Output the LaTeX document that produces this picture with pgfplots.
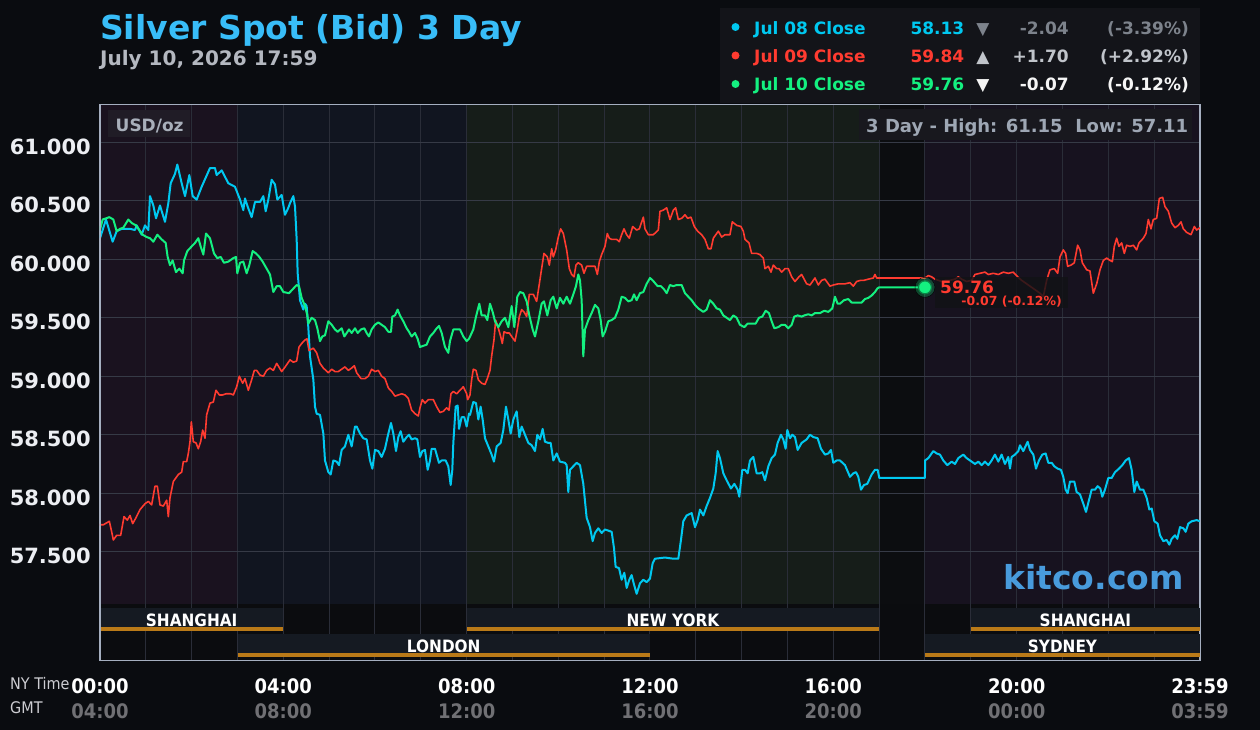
\documentclass[border=0pt]{standalone}
\usepackage{pgfplots}
\pgfplotsset{compat=1.18}
\usepackage{fontspec}
\setmainfont{DejaVu Sans}
\newfontfamily\condfont{DejaVu Sans}[FakeStretch=0.9]
\newcommand\fs[1]{\fontsize{#1bp}{#1bp}\selectfont}
\definecolor{pagebg}{RGB}{10,12,16}
\definecolor{regA}{RGB}{26,18,31}
\definecolor{regB}{RGB}{17,21,32}
\definecolor{regC}{RGB}{22,29,25}
\definecolor{regD}{RGB}{12,13,16}
\definecolor{regE}{RGB}{23,18,31}
\definecolor{bandarea}{RGB}{11,12,15}
\definecolor{bandfill}{RGB}{21,26,34}
\definecolor{bandline}{RGB}{186,122,24}
\definecolor{gridv}{RGB}{42,45,56}
\definecolor{gridh}{RGB}{54,58,70}
\definecolor{frame}{RGB}{165,175,192}
\definecolor{cyanL}{RGB}{0,200,240}
\definecolor{redL}{RGB}{255,59,48}
\definecolor{greenL}{RGB}{20,240,128}
\definecolor{titleblue}{RGB}{56,189,248}
\definecolor{subgray}{RGB}{180,184,192}
\definecolor{legbg}{RGB}{19,20,25}
\definecolor{chgA}{RGB}{125,131,140}
\definecolor{chgB}{RGB}{192,196,202}
\definecolor{chgC}{RGB}{245,245,245}
\definecolor{ylab}{RGB}{236,238,242}
\definecolor{gmtgray}{RGB}{112,112,116}
\definecolor{nygray}{RGB}{205,205,210}
\definecolor{usdbox}{RGB}{32,28,38}
\definecolor{usdtext}{RGB}{168,175,186}
\definecolor{hlbox}{RGB}{24,24,30}
\definecolor{hltext}{RGB}{158,167,180}
\definecolor{kitco}{RGB}{72,155,220}
\definecolor{lblbox}{RGB}{18,18,22}
\begin{document}
\begin{tikzpicture}
% page background
\fill[pagebg] (-100bp,-70bp) rectangle (1160bp,660bp);
% session shading of the plot area
\fill[regA] (0bp,56bp) rectangle (137.5bp,555bp);
\fill[regB] (137.5bp,56bp) rectangle (366.667bp,555bp);
\fill[regC] (366.667bp,56bp) rectangle (779.167bp,555bp);
\fill[regD] (779.167bp,56bp) rectangle (825bp,555bp);
\fill[regE] (825bp,56bp) rectangle (1100bp,555bp);
\fill[bandarea] (0bp,0bp) rectangle (1100bp,56bp);

\begin{axis}[
  at={(0,0)}, anchor=south west,
  scale only axis, width=1100bp, height=555bp,
  xmin=0, xmax=24, ymin=56.574, ymax=61.319,
  xtick={0,1,...,24}, xticklabels={},
  ytick={57.5,58,58.5,59,59.5,60,60.5,61},
  yticklabels={57.500,58.000,58.500,59.000,59.500,60.000,60.500,61.000},
  yticklabel style={font=\fs{21}\bfseries, text=ylab, anchor=east, inner sep=0pt, xshift=-9bp, yshift=-4.5bp},
  grid=major,
  x grid style={draw=gridv, line width=1bp},
  y grid style={draw=gridh, line width=1bp},
  axis line style={draw=frame, line width=1bp},
  major tick length=0pt, tick style={draw=none},
]
% Jul 08
\addplot[cyanL, line width=2bp, line join=round] coordinates {
(0,60.18)(0.131,60.34)(0.276,60.15)(0.364,60.24)(0.473,60.26)(0.655,60.26)(0.764,60.25)(0.800,60.29)(0.909,60.21)(0.982,60.29)
(1.055,60.25)(1.091,60.54)(1.164,60.46)(1.222,60.35)(1.309,60.46)(1.418,60.32)(1.491,60.48)(1.542,60.65)(1.636,60.73)(1.687,60.81)
(1.782,60.65)(1.855,60.54)(1.949,60.72)(2.022,60.54)(2.109,60.51)(2.218,60.62)(2.400,60.78)(2.509,60.78)(2.545,60.72)(2.655,60.76)
(2.800,60.65)(2.945,60.62)(3.055,60.51)(3.127,60.42)(3.164,60.52)(3.222,60.45)(3.309,60.36)(3.382,60.49)(3.491,60.49)(3.564,60.54)
(3.615,60.41)(3.673,60.51)(3.745,60.68)(3.818,60.64)(3.869,60.51)(3.964,60.55)(4.036,60.38)(4.109,60.44)(4.146,60.48)(4.218,60.54)
(4.255,60.45)(4.291,60.17)(4.313,59.88)(4.364,59.65)(4.436,59.57)(4.473,59.62)(4.509,59.60)(4.545,59.42)(4.582,59.17)(4.655,58.97)
(4.691,58.74)(4.727,58.68)(4.800,58.67)(4.873,58.51)(4.909,58.28)(4.982,58.18)(5.033,58.16)(5.091,58.28)(5.164,58.27)(5.215,58.24)
(5.273,58.37)(5.345,58.40)(5.418,58.50)(5.491,58.40)(5.564,58.57)(5.600,58.57)(5.673,58.51)(5.745,58.47)(5.818,58.46)(5.891,58.28)
(5.942,58.21)(6.000,58.37)(6.073,58.36)(6.145,58.31)(6.218,58.38)(6.291,58.51)(6.349,58.60)(6.400,58.51)(6.458,58.36)(6.509,58.48)
(6.560,58.53)(6.618,58.44)(6.691,58.48)(6.742,58.50)(6.800,58.46)(6.873,58.47)(6.924,58.46)(6.982,58.31)(7.033,58.36)(7.091,58.37)
(7.149,58.20)(7.200,58.28)(7.236,58.38)(7.309,58.38)(7.396,58.26)(7.455,58.28)(7.542,58.28)(7.600,58.23)(7.651,58.07)(7.687,58.20)
(7.709,58.43)(7.760,58.74)(7.804,58.75)(7.833,58.55)(7.891,58.65)(7.949,58.65)(8.000,58.57)(8.051,58.68)(8.073,58.67)(8.145,58.78)
(8.204,58.77)(8.255,58.63)(8.305,58.74)(8.349,58.63)(8.400,58.47)(8.473,58.40)(8.545,58.33)(8.596,58.27)(8.655,58.40)(8.742,58.43)
(8.800,58.54)(8.858,58.74)(8.909,58.63)(8.960,58.51)(9.018,58.63)(9.091,58.70)(9.149,58.48)(9.200,58.57)(9.273,58.50)(9.345,58.43)
(9.418,58.41)(9.491,58.36)(9.542,58.50)(9.600,58.46)(9.658,58.55)(9.709,58.44)(9.782,58.43)(9.833,58.43)(9.891,58.28)(9.964,58.34)
(10.036,58.27)(10.145,58.26)(10.182,58.24)(10.218,58.01)(10.255,58.20)(10.327,58.23)(10.400,58.26)(10.473,58.24)(10.545,58.08)(10.618,57.79)
(10.691,57.71)(10.749,57.59)(10.800,57.66)(10.873,57.70)(10.945,57.66)(11.018,57.69)(11.164,57.67)(11.215,57.53)(11.251,57.37)(11.324,57.36)
(11.382,57.26)(11.440,57.32)(11.491,57.19)(11.549,57.26)(11.600,57.30)(11.651,57.22)(11.709,57.14)(11.782,57.23)(11.855,57.26)(11.927,57.24)
(12.000,57.27)(12.058,57.40)(12.109,57.44)(12.327,57.45)(12.509,57.44)(12.618,57.44)(12.676,57.60)(12.727,57.76)(12.800,57.81)(12.909,57.83)
(12.982,57.71)(13.040,57.77)(13.091,57.86)(13.164,57.81)(13.236,57.89)(13.309,57.96)(13.382,58.04)(13.433,58.17)(13.476,58.36)(13.527,58.30)
(13.600,58.17)(13.673,58.11)(13.767,58.04)(13.840,58.08)(13.913,58.03)(13.949,57.97)(14.014,58.20)(14.073,58.20)(14.131,58.17)(14.182,58.28)
(14.255,58.31)(14.327,58.17)(14.400,58.17)(14.451,58.18)(14.509,58.11)(14.582,58.23)(14.655,58.30)(14.727,58.33)(14.785,58.43)(14.858,58.50)
(14.909,58.46)(14.960,58.38)(14.996,58.54)(15.055,58.47)(15.105,58.50)(15.164,58.48)(15.222,58.37)(15.309,58.43)(15.418,58.46)(15.491,58.50)
(15.564,58.48)(15.658,58.47)(15.731,58.38)(15.818,58.33)(15.891,58.34)(15.949,58.37)(16.000,58.26)(16.073,58.28)(16.145,58.28)(16.255,58.24)
(16.364,58.14)(16.436,58.17)(16.494,58.18)(16.545,58.14)(16.604,58.03)(16.669,58.07)(16.742,58.08)(16.836,58.16)(16.909,58.20)(16.967,58.20)
(17.004,58.13)(18.000,58.13)(18.001,58.28)(18.073,58.30)(18.182,58.36)(18.255,58.34)(18.327,58.33)(18.400,58.28)(18.487,58.24)(18.582,58.27)
(18.655,58.25)(18.727,58.30)(18.836,58.33)(18.909,58.30)(19.018,58.27)(19.091,58.25)(19.164,58.27)(19.236,58.24)(19.309,58.27)(19.382,58.24)
(19.455,58.28)(19.527,58.33)(19.600,58.27)(19.673,58.33)(19.745,58.25)(19.818,58.31)(19.855,58.21)(19.891,58.31)(19.964,58.33)(20.036,58.36)
(20.073,58.41)(20.145,58.36)(20.240,58.44)(20.291,58.37)(20.364,58.33)(20.422,58.21)(20.487,58.28)(20.560,58.33)(20.633,58.34)(20.691,58.26)
(20.764,58.26)(20.822,58.23)(20.895,58.21)(20.967,58.20)(21.018,58.14)(21.069,58.03)(21.113,58.00)(21.164,58.10)(21.258,58.10)(21.309,58.01)
(21.382,57.99)(21.455,57.91)(21.513,57.84)(21.578,57.94)(21.636,58.03)(21.709,58.03)(21.767,58.06)(21.826,58.04)(21.869,57.97)(21.927,58.03)
(22.000,58.13)(22.073,58.13)(22.146,58.18)(22.233,58.21)(22.306,58.24)(22.379,58.28)(22.451,58.30)(22.510,58.20)(22.568,58.01)(22.619,58.10)
(22.691,58.03)(22.764,58.03)(22.837,57.96)(22.895,57.86)(22.946,57.87)(23.004,57.76)(23.077,57.74)(23.128,57.64)(23.200,57.59)(23.273,57.60)
(23.331,57.56)(23.382,57.61)(23.455,57.64)(23.506,57.61)(23.564,57.71)(23.637,57.70)(23.688,57.67)(23.746,57.74)(23.819,57.76)(23.928,57.77)
(24.000,57.76)
};
% Jul 09
\addplot[redL, line width=1.6bp, line join=round] coordinates {
(0,57.73)(0.073,57.73)(0.204,57.76)(0.255,57.67)(0.291,57.60)(0.364,57.64)(0.451,57.64)(0.524,57.80)(0.596,57.77)(0.655,57.81)
(0.713,57.74)(0.785,57.79)(0.873,57.86)(0.982,57.91)(1.055,57.93)(1.127,57.90)(1.200,58.06)(1.251,58.06)(1.309,57.90)(1.382,57.89)
(1.455,57.94)(1.491,57.80)(1.527,57.96)(1.600,58.10)(1.709,58.16)(1.782,58.18)(1.818,58.27)(1.891,58.27)(1.927,58.34)(1.964,58.44)
(1.993,58.61)(2.036,58.44)(2.095,58.43)(2.145,58.38)(2.196,58.44)(2.240,58.54)(2.291,58.47)(2.327,58.67)(2.400,58.77)(2.473,58.78)
(2.531,58.88)(2.604,58.84)(2.676,58.84)(2.749,58.85)(2.851,58.85)(2.909,58.84)(2.982,58.91)(3.040,59.00)(3.113,58.94)(3.164,58.98)
(3.236,58.88)(3.309,58.97)(3.367,59.05)(3.418,59.05)(3.491,59.01)(3.564,59.00)(3.636,59.05)(3.709,59.07)(3.782,59.05)(3.855,59.11)
(3.964,59.04)(4.022,59.07)(4.146,59.14)(4.218,59.12)(4.291,59.13)(4.342,59.25)(4.400,59.28)(4.473,59.31)(4.516,59.32)(4.560,59.22)
(4.655,59.24)(4.727,59.20)(4.800,59.11)(4.873,59.07)(4.982,59.03)(5.055,59.06)(5.127,59.04)(5.200,59.04)(5.309,59.07)(5.345,59.08)
(5.418,59.05)(5.491,59.07)(5.549,59.09)(5.600,59.03)(5.695,58.98)(5.782,58.98)(5.855,59.00)(5.927,59.06)(6.000,59.04)(6.073,59.05)
(6.145,59.00)(6.218,58.98)(6.291,58.90)(6.364,58.87)(6.436,58.83)(6.509,58.84)(6.582,58.85)(6.655,58.84)(6.727,58.81)(6.800,58.71)
(6.873,58.68)(6.945,58.66)(6.982,58.73)(7.033,58.80)(7.091,58.77)(7.164,58.80)(7.273,58.80)(7.345,58.74)(7.418,58.69)(7.491,58.70)
(7.564,58.73)(7.615,58.71)(7.658,58.85)(7.709,58.87)(7.782,58.85)(7.855,58.88)(7.927,58.91)(8.000,58.85)(8.022,58.80)(8.073,58.84)
(8.109,58.97)(8.145,59.06)(8.204,59.05)(8.255,58.97)(8.327,58.94)(8.400,58.93)(8.451,58.98)(8.509,59.05)(8.545,59.17)(8.596,59.31)
(8.633,59.48)(8.691,59.41)(8.742,59.34)(8.778,59.28)(8.815,59.38)(8.873,59.37)(8.931,59.37)(8.982,59.34)(9.055,59.30)(9.105,59.40)
(9.149,59.51)(9.200,59.57)(9.251,59.55)(9.309,59.51)(9.367,59.70)(9.455,59.70)(9.527,59.64)(9.578,59.77)(9.636,59.92)(9.687,60.05)
(9.760,60.02)(9.804,59.95)(9.855,60.09)(9.891,60.02)(9.942,60.08)(10.000,60.19)(10.051,60.26)(10.109,60.22)(10.182,60.08)(10.240,59.92)
(10.291,59.87)(10.342,59.85)(10.385,59.95)(10.436,59.97)(10.509,59.95)(10.560,59.88)(10.618,59.94)(10.727,59.94)(10.800,59.94)(10.851,59.87)
(10.895,59.98)(10.945,60.04)(11.018,60.11)(11.069,60.22)(11.113,60.18)(11.164,60.17)(11.273,60.17)(11.331,60.15)(11.382,60.21)(11.433,60.26)
(11.491,60.21)(11.549,60.18)(11.622,60.28)(11.709,60.25)(11.767,60.26)(11.855,60.36)(11.891,60.26)(11.964,60.21)(12.073,60.21)(12.182,60.25)
(12.218,60.41)(12.291,60.42)(12.364,60.44)(12.436,60.34)(12.509,60.42)(12.560,60.44)(12.618,60.34)(12.691,60.35)(12.764,60.38)(12.822,60.35)
(12.894,60.36)(12.967,60.28)(13.040,60.24)(13.127,60.21)(13.200,60.17)(13.273,60.09)(13.331,60.09)(13.382,60.18)(13.491,60.24)(13.564,60.19)
(13.636,60.21)(13.745,60.21)(13.796,60.32)(13.891,60.29)(13.985,60.28)(14.036,60.24)(14.073,60.17)(14.160,60.14)(14.218,60.05)(14.327,60.05)
(14.400,60.04)(14.473,60.01)(14.509,59.92)(14.582,59.94)(14.640,59.89)(14.691,59.95)(14.764,59.92)(14.814,59.92)(14.873,59.89)(14.945,59.92)
(15.018,59.92)(15.091,59.85)(15.164,59.81)(15.251,59.85)(15.309,59.87)(15.418,59.79)(15.491,59.78)(15.600,59.84)(15.673,59.78)(15.745,59.82)
(15.818,59.83)(15.927,59.77)(16.000,59.78)(16.109,59.79)(16.145,59.79)(16.255,59.79)(16.364,59.80)(16.436,59.77)(16.509,59.81)(16.596,59.82)
(16.669,59.82)(16.764,59.83)(16.873,59.84)(16.909,59.87)(16.945,59.84)(18.000,59.84)(18.073,59.86)(18.145,59.85)(18.218,59.83)(18.291,59.82)
(18.364,59.81)(18.458,59.82)(18.545,59.82)(18.654,59.83)(18.727,59.85)(18.800,59.83)(18.909,59.81)(19.018,59.82)(19.091,59.87)(19.200,59.88)
(19.309,59.89)(19.382,59.87)(19.491,59.88)(19.600,59.87)(19.709,59.89)(19.818,59.88)(19.927,59.89)(20.022,59.85)(20.109,59.82)(20.182,59.80)
(20.291,59.77)(20.400,59.74)(20.509,59.71)(20.582,59.68)(20.655,59.82)(20.727,59.91)(20.822,59.92)(20.895,59.88)(20.946,60.02)(21.018,60.08)
(21.069,60.05)(21.113,59.94)(21.186,59.95)(21.258,59.97)(21.331,60.12)(21.382,60.08)(21.433,59.97)(21.528,59.91)(21.600,59.90)(21.673,59.71)
(21.746,59.79)(21.819,59.91)(21.891,59.99)(21.964,60.01)(22.037,59.99)(22.088,59.98)(22.131,60.11)(22.182,60.18)(22.233,60.11)(22.291,60.14)
(22.349,60.05)(22.400,60.12)(22.473,60.11)(22.546,60.12)(22.619,60.08)(22.670,60.14)(22.764,60.18)(22.822,60.22)(22.873,60.34)(22.931,60.26)
(22.982,60.34)(23.055,60.35)(23.113,60.52)(23.186,60.53)(23.237,60.45)(23.310,60.41)(23.382,60.31)(23.455,60.27)(23.528,60.29)(23.586,60.32)
(23.637,60.26)(23.710,60.23)(23.804,60.21)(23.877,60.28)(23.928,60.25)(24.000,60.27)
};
% Jul 10
\addplot[greenL, line width=2bp, line join=round] coordinates {
(0,60.25)(0.058,60.34)(0.131,60.35)(0.204,60.36)(0.291,60.34)(0.364,60.24)(0.436,60.26)(0.509,60.27)(0.618,60.34)(0.691,60.31)
(0.785,60.29)(0.858,60.25)(0.931,60.21)(1.018,60.19)(1.091,60.18)(1.164,60.15)(1.251,60.21)(1.345,60.17)(1.433,60.14)(1.476,60.02)
(1.527,59.95)(1.585,59.99)(1.658,59.89)(1.731,59.92)(1.804,59.88)(1.833,59.99)(1.905,60.07)(2.000,60.11)(2.073,60.14)(2.145,60.18)
(2.196,60.11)(2.255,60.04)(2.313,60.22)(2.400,60.18)(2.487,60.05)(2.560,60.01)(2.633,60.02)(2.705,59.97)(2.800,59.98)(2.909,60.01)
(2.967,60.02)(2.996,59.88)(3.055,59.97)(3.127,59.98)(3.200,59.88)(3.258,59.95)(3.331,60.07)(3.404,60.05)(3.476,60.02)(3.549,59.98)
(3.636,59.92)(3.709,59.87)(3.782,59.72)(3.855,59.77)(3.927,59.77)(4.000,59.72)(4.124,59.71)(4.196,59.74)(4.291,59.78)(4.342,59.77)
(4.400,59.67)(4.473,59.60)(4.524,59.52)(4.545,59.45)(4.618,59.50)(4.691,59.48)(4.742,59.41)(4.800,59.30)(4.851,59.34)(4.909,59.35)
(4.982,59.47)(5.055,59.44)(5.127,59.40)(5.185,59.38)(5.273,59.41)(5.331,59.34)(5.382,59.37)(5.433,59.40)(5.491,59.37)(5.564,59.41)
(5.622,59.37)(5.695,59.40)(5.767,59.41)(5.818,59.37)(5.869,59.34)(5.927,59.40)(6.000,59.44)(6.073,59.46)(6.145,59.44)(6.218,59.42)
(6.291,59.38)(6.349,59.38)(6.378,59.51)(6.436,59.52)(6.494,59.57)(6.545,59.52)(6.618,59.47)(6.691,59.41)(6.742,59.38)(6.800,59.34)
(6.873,59.37)(6.931,59.32)(6.982,59.25)(7.055,59.26)(7.127,59.27)(7.200,59.34)(7.273,59.37)(7.345,59.41)(7.396,59.43)(7.455,59.37)
(7.527,59.25)(7.600,59.20)(7.636,59.30)(7.709,59.40)(7.782,59.40)(7.855,59.40)(7.927,59.34)(8.000,59.30)(8.051,59.32)(8.145,59.40)
(8.204,59.51)(8.276,59.62)(8.327,59.52)(8.400,59.52)(8.451,59.48)(8.509,59.62)(8.567,59.55)(8.618,59.47)(8.691,59.42)(8.764,59.47)
(8.836,59.50)(8.909,59.42)(8.982,59.60)(9.040,59.42)(9.105,59.68)(9.164,59.72)(9.236,59.71)(9.309,59.64)(9.367,59.52)(9.440,59.40)
(9.491,59.34)(9.564,59.47)(9.636,59.62)(9.687,59.64)(9.760,59.52)(9.833,59.65)(9.891,59.68)(9.964,59.58)(10.036,59.67)(10.109,59.62)
(10.182,59.68)(10.255,59.62)(10.327,59.70)(10.385,59.77)(10.436,59.87)(10.473,59.82)(10.509,59.65)(10.545,59.17)(10.582,59.40)(10.655,59.48)
(10.727,59.54)(10.800,59.61)(10.873,59.58)(10.924,59.48)(10.967,59.34)(11.018,59.38)(11.091,59.47)(11.164,59.48)(11.236,59.50)(11.309,59.57)
(11.382,59.68)(11.455,59.67)(11.527,59.64)(11.600,59.65)(11.651,59.70)(11.709,59.65)(11.782,59.71)(11.855,59.72)(11.927,59.79)(12.000,59.84)
(12.058,59.82)(12.167,59.77)(12.240,59.77)(12.313,59.74)(12.364,59.71)(12.436,59.78)(12.509,59.77)(12.582,59.78)(12.691,59.78)(12.764,59.71)
(12.836,59.68)(12.909,59.65)(12.982,59.61)(13.054,59.58)(13.164,59.55)(13.236,59.57)(13.309,59.65)(13.382,59.62)(13.454,59.58)(13.527,59.57)
(13.600,59.52)(13.673,59.50)(13.745,59.48)(13.818,59.52)(13.891,59.50)(13.963,59.44)(14.058,59.42)(14.131,59.45)(14.218,59.45)(14.305,59.45)
(14.378,59.50)(14.451,59.51)(14.524,59.56)(14.596,59.54)(14.655,59.47)(14.713,59.41)(14.800,59.42)(14.873,59.44)(14.945,59.44)(15.018,59.41)
(15.091,59.44)(15.149,59.51)(15.222,59.52)(15.309,59.51)(15.367,59.52)(15.454,59.53)(15.527,59.52)(15.600,59.54)(15.709,59.54)(15.803,59.56)
(15.891,59.55)(15.978,59.58)(16.036,59.68)(16.094,59.62)(16.145,59.62)(16.233,59.65)(16.327,59.66)(16.400,59.63)(16.473,59.63)(16.545,59.63)
(16.618,59.63)(16.691,59.66)(16.764,59.67)(16.836,59.69)(16.909,59.72)(16.960,59.75)(17.000,59.76)(18.000,59.76)
};
% translucent label box over the lines
\fill[lblbox, fill opacity=0.82] (axis cs:18.218,59.848) rectangle (axis cs:21.120,59.583);
% last value marker
\addplot[only marks, mark=*, mark size=10bp, mark options={fill=greenL, draw=none, fill opacity=0.25}] coordinates {(18,59.76)};
\addplot[only marks, mark=*, mark size=6.5bp, mark options={fill=greenL, draw=greenL!55!black, line width=1.2bp}] coordinates {(18,59.76)};
\end{axis}

% marker label
\node[anchor=base west, inner sep=0pt, text=redL, font=\fs{17}\bfseries] at (840bp,366bp) {59.76};
\node[anchor=base east, inner sep=0pt, text=redL, font=\fs{12.5}\bfseries] at (962bp,354.5bp) {-0.07 (-0.12\%)};

% session bands
\fill[bandfill] (0bp,33bp) rectangle (183.333bp,52bp);
\fill[bandline] (0bp,29bp) rectangle (183.333bp,33bp);
\fill[bandfill] (366.667bp,33bp) rectangle (779.167bp,52bp);
\fill[bandline] (366.667bp,29bp) rectangle (779.167bp,33bp);
\fill[bandfill] (870.833bp,33bp) rectangle (1100bp,52bp);
\fill[bandline] (870.833bp,29bp) rectangle (1100bp,33bp);
\fill[bandfill] (137.5bp,7bp) rectangle (550bp,26bp);
\fill[bandline] (137.5bp,3bp) rectangle (550bp,7bp);
\fill[bandfill] (825bp,7bp) rectangle (1100bp,26bp);
\fill[bandline] (825bp,3bp) rectangle (1100bp,7bp);
\begin{scope}[every node/.style={anchor=base, inner sep=0pt, text=white, font=\condfont\bfseries\fs{17}}]
\node at (91.667bp,33.5bp) {SHANGHAI};
\node at (572.917bp,33.5bp) {NEW YORK};
\node at (985.417bp,33.5bp) {SHANGHAI};
\node at (343.75bp,7.5bp) {LONDON};
\node at (962.5bp,7.5bp) {SYDNEY};
\end{scope}
% redraw frame over the bands
\draw[frame, line width=1bp] (0,0) rectangle (1100bp,555bp);

% time labels
\begin{scope}[every node/.style={anchor=base, inner sep=0pt, font=\condfont\bfseries\fs{20}}]
\node[text=white] at (0bp,-33bp) {00:00};
\node[text=white] at (183.333bp,-33bp) {04:00};
\node[text=white] at (366.667bp,-33bp) {08:00};
\node[text=white] at (550bp,-33bp) {12:00};
\node[text=white] at (733.333bp,-33bp) {16:00};
\node[text=white] at (916.667bp,-33bp) {20:00};
\node[text=white] at (1100bp,-33bp) {23:59};
\node[text=gmtgray] at (0bp,-58bp) {04:00};
\node[text=gmtgray] at (183.333bp,-58bp) {08:00};
\node[text=gmtgray] at (366.667bp,-58bp) {12:00};
\node[text=gmtgray] at (550bp,-58bp) {16:00};
\node[text=gmtgray] at (733.333bp,-58bp) {20:00};
\node[text=gmtgray] at (916.667bp,-58bp) {00:00};
\node[text=gmtgray] at (1100bp,-58bp) {03:59};
\end{scope}
\node[anchor=base west, inner sep=0pt, text=nygray, font=\condfont\fs{16}] at (-90bp,-29bp) {NY Time};
\node[anchor=base west, inner sep=0pt, text=nygray, font=\condfont\fs{16}] at (-90bp,-53bp) {GMT};

% titles
\node[anchor=base west, inner sep=0pt, text=titleblue, font=\fs{33}\bfseries] at (0bp,620bp) {Silver Spot (Bid) 3 Day};
\node[anchor=base west, inner sep=0pt, text=subgray, font=\fs{20}\bfseries] at (0bp,594.8bp) {July 10, 2026 17:59};

% in-plot boxes
\fill[usdbox] (8bp,523bp) rectangle (90bp,550bp);
\node[anchor=base west, inner sep=0pt, text=usdtext, font=\fs{17}\bfseries] at (15.5bp,528.5bp) {USD/oz};
\fill[hlbox] (759bp,520bp) rectangle (1092bp,551bp);
\node[anchor=base west, inner sep=0pt, text=hltext, font=\fs{18}\bfseries] at (766bp,527.5bp) {3 Day - High: 61.15\ \ Low: 57.11};
\node[anchor=base east, inner sep=0pt, text=kitco, font=\fs{33}\bfseries] at (1084bp,70bp) {kitco.com};

% legend panel
\fill[legbg] (620bp,557bp) rectangle (1100bp,652bp);
\fill[cyanL] (635.5bp,633bp) circle (4bp);
\fill[redL] (635.5bp,604.5bp) circle (4bp);
\fill[greenL] (635.5bp,576bp) circle (4bp);
\begin{scope}[every node/.style={inner sep=0pt, font=\fs{17}\bfseries}]
\node[anchor=base west, text=cyanL] at (654bp,625bp) {Jul 08 Close};
\node[anchor=base east, text=cyanL] at (864.5bp,625bp) {58.13};
\node[anchor=base, text=chgA] at (883bp,625bp) {▼};
\node[anchor=base east, text=chgA] at (969bp,625bp) {-2.04};
\node[anchor=base east, text=chgA] at (1089bp,625bp) {(-3.39\%)};
\node[anchor=base west, text=redL] at (654bp,597bp) {Jul 09 Close};
\node[anchor=base east, text=redL] at (864.5bp,597bp) {59.84};
\node[anchor=base, text=chgB] at (883bp,597bp) {▲};
\node[anchor=base east, text=chgB] at (969bp,597bp) {+1.70};
\node[anchor=base east, text=chgB] at (1089bp,597bp) {(+2.92\%)};
\node[anchor=base west, text=greenL] at (654bp,569bp) {Jul 10 Close};
\node[anchor=base east, text=greenL] at (864.5bp,569bp) {59.76};
\node[anchor=base, text=chgC] at (883bp,569bp) {▼};
\node[anchor=base east, text=chgC] at (969bp,569bp) {-0.07};
\node[anchor=base east, text=chgC] at (1089bp,569bp) {(-0.12\%)};
\end{scope}
\end{tikzpicture}
\end{document}
